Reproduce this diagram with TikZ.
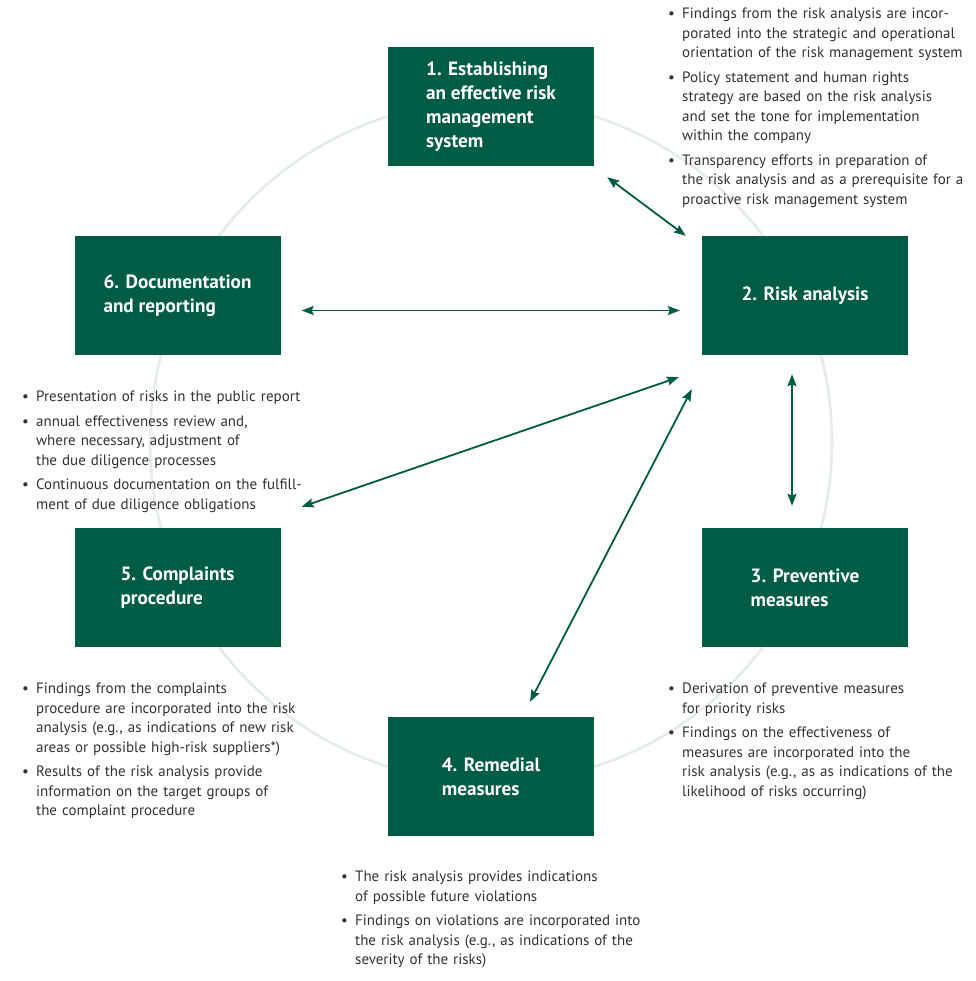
\documentclass[tikz,border=0pt]{standalone}
\usepackage{fontspec}
\setmainfont{PT Sans}
\usepackage{enumitem}
\usetikzlibrary{arrows.meta, calc, positioning}
\definecolor{boxgreen}{RGB}{0,92,69}
\definecolor{notegray}{RGB}{50,50,50}
\definecolor{ringgray}{RGB}{228,236,233}
\setlist[itemize]{label=\textbullet, leftmargin=14pt, labelsep=7pt, labelwidth=7pt, align=left, itemsep=5pt, topsep=0pt, parsep=0pt, partopsep=0pt}

\begin{document}
\begin{tikzpicture}[x=1pt, y=-1pt]
% TikZ styles
\tikzset{
  stepbox/.style={rectangle, fill=boxgreen, text=white, minimum width=206pt, minimum height=119pt, inner sep=0pt, align=left, font=\fontsize{19.2}{24}\selectfont\bfseries},
  notes/.style={anchor=north west, inner sep=0pt, text width=330pt, align=left, text=notegray, font=\fontsize{15}{19.5}\selectfont},
  ring/.style={draw=ringgray, line width=2.6pt},
  arrowboth/.style={{Stealth[length=12pt, width=9pt, inset=2pt]}-{Stealth[length=12pt, width=9pt, inset=2pt]}, draw=boxgreen, line width=1.8pt}
};
\useasboundingbox (0,0) rectangle (975,981);

%==========================
% Kreislauf
%==========================
\node[coordinate] (center) at (491,441.5) {};
\draw[ring] (center) circle (341pt);

\node[stepbox] (establish) at (491,106.5) {1. Establishing\\an effective risk\\management\\system};
\node[stepbox] (analysis)  at (805,295.5) {2. Risk analysis};
\node[stepbox] (prevent)   at (805,587.5) {3. Preventive\\measures};
\node[stepbox] (remedial)  at (491,776.5) {4. Remedial\\measures};
\node[stepbox] (complaint) at (177.5,587.5) {5. Complaints\\procedure};
\node[stepbox] (document)  at (177.5,295.5) {6. Documentation\\and reporting};

% === Erläuterungen ===
\node[notes] (noteestablish) at (668,-1) {\begin{itemize}
\item Findings from the risk analysis are incor-\\porated into the strategic and operational\\orientation of the risk management system
\item Policy statement and human rights\\strategy are based on the risk analysis\\and set the tone for implementation\\within the company
\item Transparency efforts in preparation of\\the risk analysis and as a prerequisite for a\\proactive risk management system
\end{itemize}};

\node[notes] (notedocument) at (22,382) {\begin{itemize}
\item Presentation of risks in the public report
\item annual effectiveness review and,\\where necessary, adjustment of\\the due diligence processes
\item Continuous documentation on the fulfill-\\ment of due diligence obligations
\end{itemize}};

\node[notes] (notecomplaint) at (22,674) {\begin{itemize}
\item Findings from the complaints\\procedure are incorporated into the risk\\analysis (e.g., as indications of new risk\\areas or possible high-risk suppliers*)
\item Results of the risk analysis provide\\information on the target groups of\\the complaint procedure
\end{itemize}};

\node[notes] (noteprevent) at (668,674) {\begin{itemize}
\item Derivation of preventive measures\\for priority risks
\item Findings on the effectiveness of\\measures are incorporated into the\\risk analysis (e.g., as as indications of the\\likelihood of risks occurring)
\end{itemize}};

\node[notes] (noteremedial) at (341,862) {\begin{itemize}
\item The risk analysis provides indications\\of possible future violations
\item Findings on violations are incorporated into\\the risk analysis (e.g., as indications of the\\severity of the risks)
\end{itemize}};

% === Pfeilenden ===
\node[coordinate] (e12) at ($(establish.south east) + (13,11)$) {};
\node[coordinate] (a12) at ($(analysis.north west) + (-16,0)$) {};
\node[coordinate] (d26) at ($(document.east) + (21,15)$) {};
\node[coordinate] (a26) at ($(analysis.west) + (-22,15)$) {};
\node[coordinate] (a23) at ($(analysis.south) + (-13,19)$) {};
\node[coordinate] (p23) at ($(prevent.north) + (-13,-22)$) {};
\node[coordinate] (a25) at ($(analysis.south west) + (-23,22)$) {};
\node[coordinate] (c25) at ($(complaint.north east) + (21,-21)$) {};
\node[coordinate] (a24) at ($(analysis.south west) + (-10,34)$) {};
\node[coordinate] (r24) at ($(remedial.north) + (39,-15)$) {};

% === Pfeile ===
\draw[arrowboth] (e12) -- (a12);
\draw[arrowboth] (d26) -- (a26);
\draw[arrowboth] (a23) -- (p23);
\draw[arrowboth] (a25) -- (c25);
\draw[arrowboth] (a24) -- (r24);

\end{tikzpicture}
\end{document}
